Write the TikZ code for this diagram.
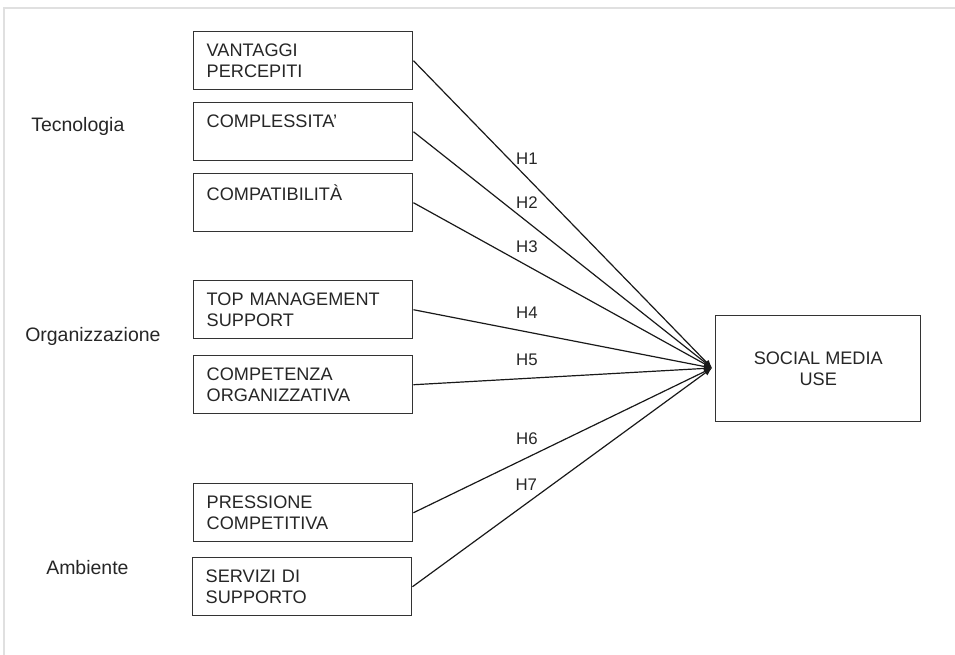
\documentclass[tikz,border=0pt]{standalone}
\usepackage{fontspec}
\setmainfont{Liberation Sans}
\usetikzlibrary{arrows.meta}
\begin{document}
\begin{tikzpicture}[x=0.75pt,y=-0.75pt,
  factor/.style={draw=black!80, line width=1.1pt, fill=white, minimum height=43.5pt,
    text width=144.75pt, inner xsep=9.75pt, inner ysep=0pt, align=left,
    font=\fontsize{13.6pt}{15.4pt}\selectfont, text=black!85, anchor=north west},
  outcome/.style={draw=black!80, line width=1.1pt, fill=white, minimum width=153.75pt,
    minimum height=79.5pt, align=center, inner sep=0pt,
    font=\fontsize{13.6pt}{15.6pt}\selectfont, text=black!85, anchor=north west},
  group/.style={font=\fontsize{14.6pt}{17pt}\selectfont, text=black!85, anchor=base west, inner sep=0pt},
  conn/.style={draw=black!90, line width=0.9pt, -{Latex[length=6pt,width=5pt]}},
  hlab/.style={pos=0.38, yshift=14.25pt, font=\fontsize{12.6pt}{14pt}\selectfont, text=black!85, inner sep=0pt}
]
\useasboundingbox (0,0) rectangle (955,655);
% faint frame
\draw[black!12, line width=1.1pt] (955,8) -- (4,8) -- (4,655);

% group labels
\node[group] (gt) at (31,132) {Tecnologia};
\node[group] (go) at (25,342) {Organizzazione};
\node[group] (ga) at (46,574) {Ambiente};

% factor boxes
\node[factor] (b1) at (193,31)  {VANTAGGI\\PERCEPITI};
\node[factor] (b2) at (193,102) {COMPLESSITA'\\\mbox{}};
\node[factor] (b3) at (193,173) {COMPATIBILITÀ\\\mbox{}};
\node[factor] (b4) at (193,280) {TOP MANAGEMENT\\SUPPORT};
\node[factor] (b5) at (193,355) {COMPETENZA\\ORGANIZZATIVA};
\node[factor] (b6) at (193,483) {PRESSIONE\\COMPETITIVA};
\node[factor] (b7) at (192,557) {SERVIZI DI\\SUPPORTO};

% outcome
\node[outcome] (sm) at (715,315) {SOCIAL MEDIA\\USE};
\coordinate (conv) at (712,368);

% connectors
\draw[conn] (b1.east) -- node[hlab]{H1} (conv);
\draw[conn] (b2.east) -- node[hlab]{H2} (conv);
\draw[conn] (b3.east) -- node[hlab]{H3} (conv);
\draw[conn] (b4.east) -- node[hlab]{H4} (conv);
\draw[conn] (b5.east) -- node[hlab]{H5} (conv);
\draw[conn] (b6.east) -- node[hlab]{H6} (conv);
\draw[conn] (b7.east) -- node[hlab]{H7} (conv);
\end{tikzpicture}
\end{document}
